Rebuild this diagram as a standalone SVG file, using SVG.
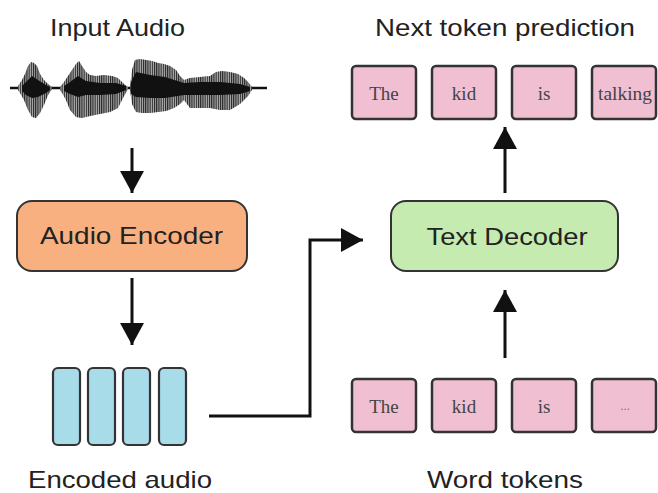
<svg xmlns="http://www.w3.org/2000/svg" width="658" height="493" viewBox="0 0 658 493">
<style>
.lbl{font-family:"Liberation Sans",Arial,sans-serif;font-size:24px;fill:#222;text-anchor:middle}
.tok{font-family:"Liberation Serif","Times New Roman",serif;font-size:19px;fill:#444;text-anchor:middle}
.tokbox{fill:#f0bfd2;stroke:#333;stroke-width:2.5}
.bar{fill:#a9dce9;stroke:#333;stroke-width:2.2}
.conn{fill:none;stroke:#111;stroke-width:3}
</style>
<defs>
<marker id="ah" markerUnits="userSpaceOnUse" markerWidth="22" markerHeight="24" refX="22" refY="12" orient="auto">
<path d="M0,0 L22,12 L0,24 z" fill="#111"/>
</marker>
<pattern id="stripes" patternUnits="userSpaceOnUse" width="2.2" height="10">
<rect x="0" y="0" width="1.1" height="10" fill="#222"/>
</pattern>
<path id="env" d="M18,86 L22,80 L25,74 L28,66 L31,62 L34,63 L37,66 L40,74 L44,80 L48,84 L52,87 L52,89 L48,95 L44,105 L40,113 L36,118 L32,117 L28,110 L24,100 L20,93 L18,90 Z
M60,87 L64,82 L68,76 L72,70 L76,64 L79,61 L82,66 L86,72 L90,75 L96,76 L104,75 L112,76 L118,78 L124,84 L128,87 L128,89 L124,96 L118,108 L110,112 L100,114 L90,116 L82,118 L76,117 L70,110 L66,100 L62,93 L60,90 Z
M130,87 L132,70 L135,60 L140,59 L146,60 L152,61 L158,63 L164,64 L170,66 L176,70 L180,76 L184,80 L190,78 L200,77 L210,76 L216,72 L222,71 L230,72 L238,74 L244,78 L248,82 L252,87 L252,90 L248,96 L240,104 L230,110 L220,110 L210,108 L200,108 L190,108 L184,100 L180,104 L174,108 L166,111 L158,112 L150,113 L142,113 L136,112 L132,104 L130,90 Z"/>
</defs>

<g id="input-audio">
<text class="lbl" x="117.5" y="36" textLength="135" lengthAdjust="spacingAndGlyphs">Input Audio</text>
<g id="waveform">
<line x1="10" y1="88" x2="267" y2="88" stroke="#111" stroke-width="2.5"/>
<use href="#env" fill="#b0b0b0"/>
<use href="#env" fill="url(#stripes)"/>
<path d="M22,86 L28,80 L32,76 L38,80 L46,85 L50,87 L50,90 L46,93 L38,97 L32,98 L26,95 L22,91 Z
M64,86 L70,82 L78,76 L86,81 L100,83 L116,83 L126,86 L126,90 L116,94 L100,95 L86,95 L78,97 L70,94 L64,91 Z
M131,82 L136,72 L150,75 L165,77 L184,83 L200,82 L220,82 L240,84 L250,87 L250,91 L240,94 L220,95 L200,95 L184,95 L165,98 L150,98 L136,97 L131,94 Z" fill="#111"/>
</g>
</g>

<g id="audio-encoder">
<rect x="17" y="201" width="230" height="70" rx="15" fill="#f9b080" stroke="#333" stroke-width="2"/>
<text class="lbl" x="131.5" y="244" textLength="183" lengthAdjust="spacingAndGlyphs">Audio Encoder</text>
</g>

<g id="encoded-audio">
<rect class="bar" x="53" y="368" width="27" height="77" rx="5"/>
<rect class="bar" x="88" y="368" width="27" height="77" rx="5"/>
<rect class="bar" x="123" y="368" width="27" height="77" rx="5"/>
<rect class="bar" x="159" y="368" width="27" height="77" rx="5"/>
<text class="lbl" x="120" y="488" textLength="184" lengthAdjust="spacingAndGlyphs">Encoded audio</text>
</g>

<g id="text-decoder">
<rect x="391" y="201" width="227" height="70" rx="15" fill="#c5ebb0" stroke="#333" stroke-width="2"/>
<text class="lbl" x="507" y="245" textLength="161" lengthAdjust="spacingAndGlyphs">Text Decoder</text>
</g>

<g id="next-token-prediction">
<text class="lbl" x="505" y="36" textLength="260" lengthAdjust="spacingAndGlyphs">Next token prediction</text>
<rect class="tokbox" x="352" y="66" width="64" height="53" rx="4"/>
<text class="tok" x="384" y="100">The</text>
<rect class="tokbox" x="432" y="66" width="64" height="53" rx="4"/>
<text class="tok" x="464" y="100">kid</text>
<rect class="tokbox" x="512" y="66" width="64" height="53" rx="4"/>
<text class="tok" x="544" y="100">is</text>
<rect class="tokbox" x="592" y="66" width="64" height="53" rx="4"/>
<text class="tok" x="625" y="100" textLength="54" lengthAdjust="spacingAndGlyphs">talking</text>
</g>

<g id="word-tokens">
<rect class="tokbox" x="352" y="379" width="64" height="53" rx="4"/>
<text class="tok" x="384" y="413">The</text>
<rect class="tokbox" x="432" y="379" width="64" height="53" rx="4"/>
<text class="tok" x="464" y="413">kid</text>
<rect class="tokbox" x="512" y="379" width="64" height="53" rx="4"/>
<text class="tok" x="544" y="413">is</text>
<rect class="tokbox" x="592" y="379" width="64" height="53" rx="4"/>
<text class="tok" x="625" y="410" style="font-size:13px;fill:#777">...</text>
<text class="lbl" x="505" y="488" textLength="156" lengthAdjust="spacingAndGlyphs">Word tokens</text>
</g>

<g id="connectors">
<path class="conn" d="M132,148 V193" marker-end="url(#ah)"/>
<path class="conn" d="M132,278 V345" marker-end="url(#ah)"/>
<path class="conn" d="M505,193 V127" marker-end="url(#ah)"/>
<path class="conn" d="M505,358 V290" marker-end="url(#ah)"/>
<path class="conn" d="M209,416 H310 V240 H363" marker-end="url(#ah)"/>
</g>
</svg>
